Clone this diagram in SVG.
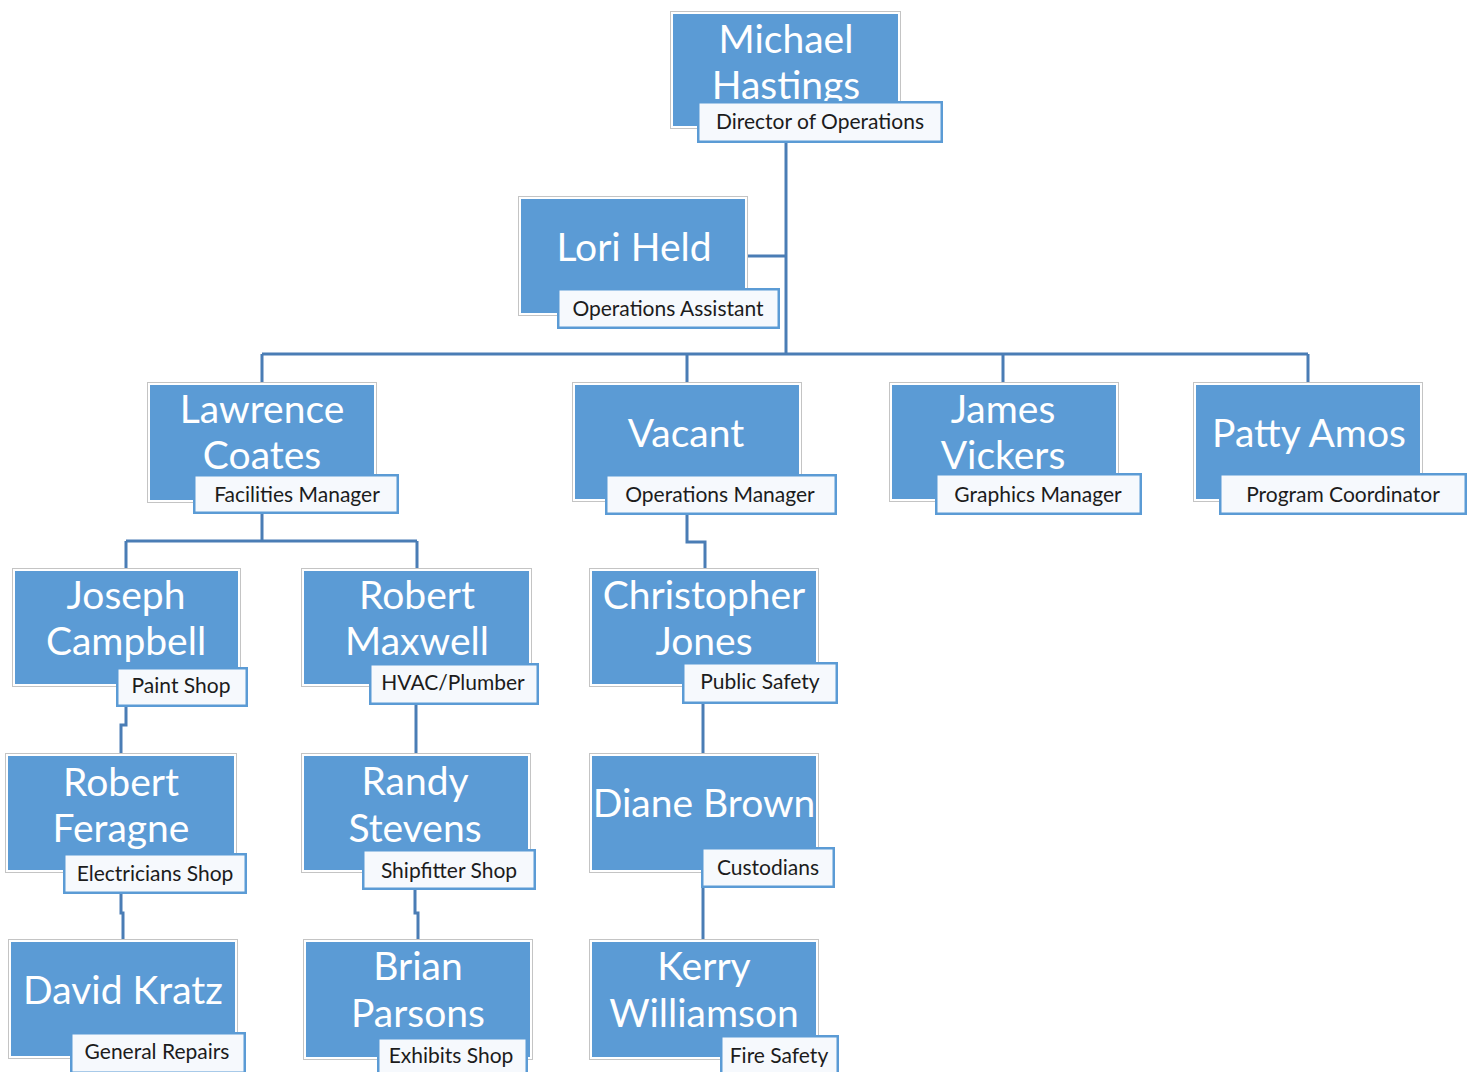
<svg xmlns="http://www.w3.org/2000/svg" width="1473" height="1072" viewBox="0 0 1473 1072">
  <style>
    .frame { fill: #ffffff; stroke: #c4c4c4; stroke-width: 1; }
    .fill { fill: #5b9bd5; }
    .name { fill: #ffffff; font-family: Lato, "Liberation Sans", sans-serif; font-size: 39px; text-anchor: middle; }
    .tag { fill: #f6f9fd; stroke: #5b9bd5; stroke-width: 2.5; }
    .role { fill: #1c1c1c; font-family: Lato, "Liberation Sans", sans-serif; font-size: 21px; text-anchor: middle; }
    .wire { fill: none; stroke: #4a7db5; stroke-width: 3; }
  </style>
  <rect width="1473" height="1072" fill="#ffffff"/>

  <!-- reporting lines -->
  <g id="connectors">
    <path class="wire" d="M786,143 V354"/>
    <path class="wire" d="M748,256 H786"/>
    <path class="wire" d="M262,354 H1308"/>
    <path class="wire" d="M262,354 V382 M687,354 V382 M1003,354 V382 M1308,354 V382"/>
    <path class="wire" d="M262,514 V541 M126,541 H417 M126,541 V568 M417,541 V568"/>
    <path class="wire" d="M687,515 V542 H705 V568"/>
    <path class="wire" d="M126,707 V725 H121 V753"/>
    <path class="wire" d="M416,705 V753"/>
    <path class="wire" d="M703,704 V753"/>
    <path class="wire" d="M121,894 V913 H123 V939"/>
    <path class="wire" d="M415,890 V913 H418 V939"/>
    <path class="wire" d="M703,888 V939"/>
  </g>

  <g id="michael-hastings">
    <rect class="frame" x="670.5" y="11.5" width="230" height="117"/>
    <rect class="fill" x="673" y="14" width="225" height="112"/>
    <text class="name" x="786" y="53">Michael</text>
    <text class="name" x="786" y="99">Hastings</text>
    <rect class="tag" x="698.25" y="102.25" width="243.5" height="39.5"/>
    <text class="role" x="820" y="129">Director of Operations</text>
  </g>

  <g id="lori-held">
    <rect class="frame" x="518.5" y="196.5" width="229" height="119"/>
    <rect class="fill" x="521" y="199" width="224" height="114"/>
    <text class="name" x="634" y="261">Lori Held</text>
    <rect class="tag" x="558.25" y="289.25" width="220.5" height="38.5"/>
    <text class="role" x="668" y="316">Operations Assistant</text>
  </g>

  <g id="lawrence-coates">
    <rect class="frame" x="147.5" y="382.5" width="229" height="120"/>
    <rect class="fill" x="150" y="385" width="224" height="115"/>
    <text class="name" x="262" y="423">Lawrence</text>
    <text class="name" x="262" y="469">Coates</text>
    <rect class="tag" x="194.25" y="475.25" width="203.5" height="37.5"/>
    <text class="role" x="297" y="502">Facilities Manager</text>
  </g>

  <g id="vacant">
    <rect class="frame" x="572.5" y="382.5" width="229" height="119"/>
    <rect class="fill" x="575" y="385" width="224" height="114"/>
    <text class="name" x="686" y="447">Vacant</text>
    <rect class="tag" x="606.25" y="475.25" width="229.5" height="38.5"/>
    <text class="role" x="720" y="502">Operations Manager</text>
  </g>

  <g id="james-vickers">
    <rect class="frame" x="889.5" y="382.5" width="229" height="119"/>
    <rect class="fill" x="892" y="385" width="224" height="114"/>
    <text class="name" x="1003" y="423">James</text>
    <text class="name" x="1003" y="469">Vickers</text>
    <rect class="tag" x="936.25" y="474.25" width="204.5" height="39.5"/>
    <text class="role" x="1038" y="502">Graphics Manager</text>
  </g>

  <g id="patty-amos">
    <rect class="frame" x="1193.5" y="382.5" width="229" height="119"/>
    <rect class="fill" x="1196" y="385" width="224" height="114"/>
    <text class="name" x="1309" y="447">Patty Amos</text>
    <rect class="tag" x="1220.25" y="474.25" width="245.5" height="39.5"/>
    <text class="role" x="1343" y="502">Program Coordinator</text>
  </g>

  <g id="joseph-campbell">
    <rect class="frame" x="12.5" y="568.5" width="228" height="118"/>
    <rect class="fill" x="15" y="571" width="223" height="113"/>
    <text class="name" x="126" y="609">Joseph</text>
    <text class="name" x="126" y="655">Campbell</text>
    <rect class="tag" x="117.25" y="668.25" width="129.5" height="37.5"/>
    <text class="role" x="181" y="693">Paint Shop</text>
  </g>

  <g id="robert-maxwell">
    <rect class="frame" x="301.5" y="568.5" width="230" height="118"/>
    <rect class="fill" x="304" y="571" width="225" height="113"/>
    <text class="name" x="417" y="609">Robert</text>
    <text class="name" x="417" y="655">Maxwell</text>
    <rect class="tag" x="370.25" y="664.25" width="167.5" height="39.5"/>
    <text class="role" x="453" y="690">HVAC/Plumber</text>
  </g>

  <g id="christopher-jones">
    <rect class="frame" x="589.5" y="568.5" width="229" height="118"/>
    <rect class="fill" x="592" y="571" width="224" height="113"/>
    <text class="name" x="704" y="609">Christopher</text>
    <text class="name" x="704" y="655">Jones</text>
    <rect class="tag" x="683.25" y="663.25" width="153.5" height="39.5"/>
    <text class="role" x="760" y="689">Public Safety</text>
  </g>

  <g id="robert-feragne">
    <rect class="frame" x="5.5" y="753.5" width="231" height="119"/>
    <rect class="fill" x="8" y="756" width="226" height="114"/>
    <text class="name" x="121" y="796">Robert</text>
    <text class="name" x="121" y="842">Feragne</text>
    <rect class="tag" x="64.25" y="854.25" width="181.5" height="38.5"/>
    <text class="role" x="155" y="881">Electricians Shop</text>
  </g>

  <g id="randy-stevens">
    <rect class="frame" x="301.5" y="753.5" width="229" height="119"/>
    <rect class="fill" x="304" y="756" width="224" height="114"/>
    <text class="name" x="415" y="795">Randy</text>
    <text class="name" x="415" y="842">Stevens</text>
    <rect class="tag" x="363.25" y="850.25" width="171.5" height="38.5"/>
    <text class="role" x="449" y="878">Shipfitter Shop</text>
  </g>

  <g id="diane-brown">
    <rect class="frame" x="589.5" y="753.5" width="229" height="119"/>
    <rect class="fill" x="592" y="756" width="224" height="114"/>
    <text class="name" x="704" y="817">Diane Brown</text>
    <rect class="tag" x="702.25" y="848.25" width="131.5" height="38.5"/>
    <text class="role" x="768" y="875">Custodians</text>
  </g>

  <g id="david-kratz">
    <rect class="frame" x="8.5" y="939.5" width="229" height="119"/>
    <rect class="fill" x="11" y="942" width="224" height="114"/>
    <text class="name" x="123" y="1004">David Kratz</text>
    <rect class="tag" x="71.25" y="1033.25" width="173.5" height="39.5"/>
    <text class="role" x="157" y="1059">General Repairs</text>
  </g>

  <g id="brian-parsons">
    <rect class="frame" x="303.5" y="939.5" width="229" height="120"/>
    <rect class="fill" x="306" y="942" width="224" height="115"/>
    <text class="name" x="418" y="980">Brian</text>
    <text class="name" x="418" y="1027">Parsons</text>
    <rect class="tag" x="378.25" y="1038.25" width="148.5" height="39.5"/>
    <text class="role" x="451" y="1063">Exhibits Shop</text>
  </g>

  <g id="kerry-williamson">
    <rect class="frame" x="589.5" y="939.5" width="229" height="120"/>
    <rect class="fill" x="592" y="942" width="224" height="115"/>
    <text class="name" x="704" y="980">Kerry</text>
    <text class="name" x="704" y="1027">Williamson</text>
    <rect class="tag" x="721.25" y="1036.25" width="116.5" height="39.5"/>
    <text class="role" x="779" y="1063">Fire Safety</text>
  </g>
</svg>
